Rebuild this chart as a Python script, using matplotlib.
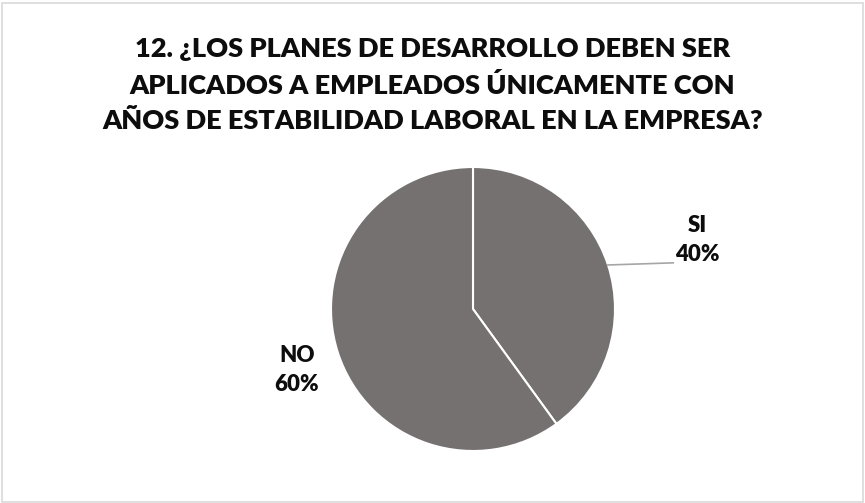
import matplotlib
matplotlib.use('Agg')
import matplotlib.pyplot as plt
from matplotlib.patches import Rectangle

# Datos de la encuesta
categorias = ['SI', 'NO']
valores = [40, 60]
titulo = ('12. ¿LOS PLANES DE DESARROLLO DEBEN SER\n'
          'APLICADOS A EMPLEADOS ÚNICAMENTE CON\n'
          'AÑOS DE ESTABILIDAD LABORAL EN LA EMPRESA?')

plt.rcParams['font.family'] = ['Lato', 'DejaVu Sans']

fig = plt.figure(figsize=(8.65, 5.03), dpi=100)

# marco gris alrededor del grafico
fig.patches.append(Rectangle((1.5 / 865, 1.5 / 503), 861 / 865, 499 / 503,
                             transform=fig.transFigure, fill=False,
                             edgecolor='#d9d9d9', linewidth=1.2))

fig.text(0.5, 0.831, titulo, ha='center', va='center', fontsize=19.5,
         fontweight=800, color='#0d0d0d', linespacing=1.55)

ax = fig.add_axes([(473 - 142) / 865, (503 - 309 - 142) / 503, 284 / 865, 284 / 503])
ax.pie(valores, startangle=90, counterclock=False, radius=1,
       colors=['#767171', '#767171'],
       wedgeprops=dict(edgecolor='white', linewidth=1.5))
ax.set_xlim(-1, 1)
ax.set_ylim(-1, 1)
ax.set_aspect('equal')
ax.axis('off')

total = sum(valores)
# etiqueta SI con linea guia
ax.plot([0.95, 1.41], [0.31, 0.325], color='#a6a6a6', lw=1.2, clip_on=False)
ax.text(1.577, 0.486, f'{categorias[0]}\n{valores[0] / total:.0%}', ha='center', va='center',
        fontsize=16, fontweight=800, color='#0d0d0d', linespacing=1.45)
ax.text(-1.239, -0.43, f'{categorias[1]}\n{valores[1] / total:.0%}', ha='center', va='center',
        fontsize=16, fontweight=800, color='#0d0d0d', linespacing=1.45)

fig.savefig('out.png', dpi=100)
